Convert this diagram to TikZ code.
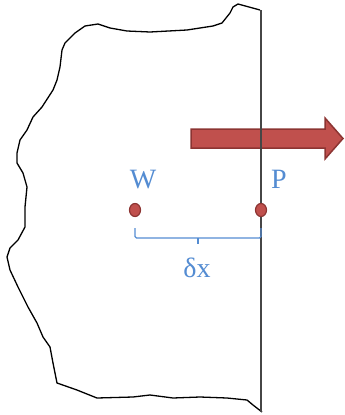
\documentclass[tikz,border=0pt]{standalone}
\usepackage{fontspec}
\setmainfont{Liberation Serif}
\definecolor{arrowred}{RGB}{192,80,77}
\definecolor{arrowedge}{RGB}{140,52,50}
\definecolor{lblue}{RGB}{84,140,210}
\definecolor{wallgray}{RGB}{70,70,70}
\tikzset{
  dot/.style={ellipse,fill=arrowred,draw=arrowedge,line width=1.2pt,inner sep=0pt,minimum width=11pt,minimum height=13pt},
  lbl/.style={text=lblue,font=\fontsize{28}{30}\selectfont,inner sep=0pt,anchor=base},
  outline/.style={black,line width=1.3pt,line join=round},
  wall/.style={wallgray,line width=1.8pt},
  brace/.style={lblue,line width=1.3pt,rounded corners=1.5pt},
  bigarrow/.style={fill=arrowred,draw=arrowedge,line width=1.5pt,line join=miter}
}
\usetikzlibrary{shapes.geometric}
\begin{document}
\begin{tikzpicture}[x=1pt,y=-1pt]
\useasboundingbox (0,0) rectangle (345,415);
% irregular outline
\draw[outline] (260,10) -- (238,4) -- (233,7) -- (230,13) -- (222,23) -- (213,26)
  -- (187,30) -- (150,32) -- (127,31) -- (110,28) -- (98,24) -- (85,26) -- (75,33)
  -- (65,43) -- (62,50) -- (60,67) -- (57,80) -- (53,90) -- (42,107) -- (33,117)
  -- (27,130) -- (20,140) -- (17,153) -- (17,163) -- (23,173) -- (27,187) -- (25,207)
  -- (25,227) -- (18,240) -- (10,248) -- (7,257) -- (10,270) -- (18,287) -- (28,307)
  -- (37,323) -- (43,337) -- (50,347) -- (53,363) -- (57,383) -- (77,390) -- (97,398)
  -- (133,397) -- (150,395) -- (173,398) -- (200,397) -- (227,398) -- (247,400)
  -- (253,405) -- (262,412);
% arrow
\draw[bigarrow] (191,129) -- (325,129) -- (325,118) -- (343,138.5) -- (325,159)
  -- (325,148) -- (191,148) -- cycle;
% wall line
\coordinate (walltop) at (261,10);
\coordinate (wallbot) at (261,412);
\draw[wall] (walltop) -- (wallbot);
% points
\node[dot] (W) at (135,210) {};
\node[dot] (P) at (261,210) {};
\node[lbl] (Wl) at (143,188) {W};
\node[lbl] (Pl) at (279,188) {P};
% brace
\coordinate (bl) at (135,228);
\coordinate (br) at (261,228);
\coordinate (bm) at (198,238);
\coordinate (bt) at (198,244);
\draw[brace] (bl) -- (135,238) -- (261,238) -- (br);
\draw[lblue,line width=1.3pt] (bm) -- (bt);
\node[lbl] (dx) at (197,277) {δx};
\end{tikzpicture}
\end{document}
